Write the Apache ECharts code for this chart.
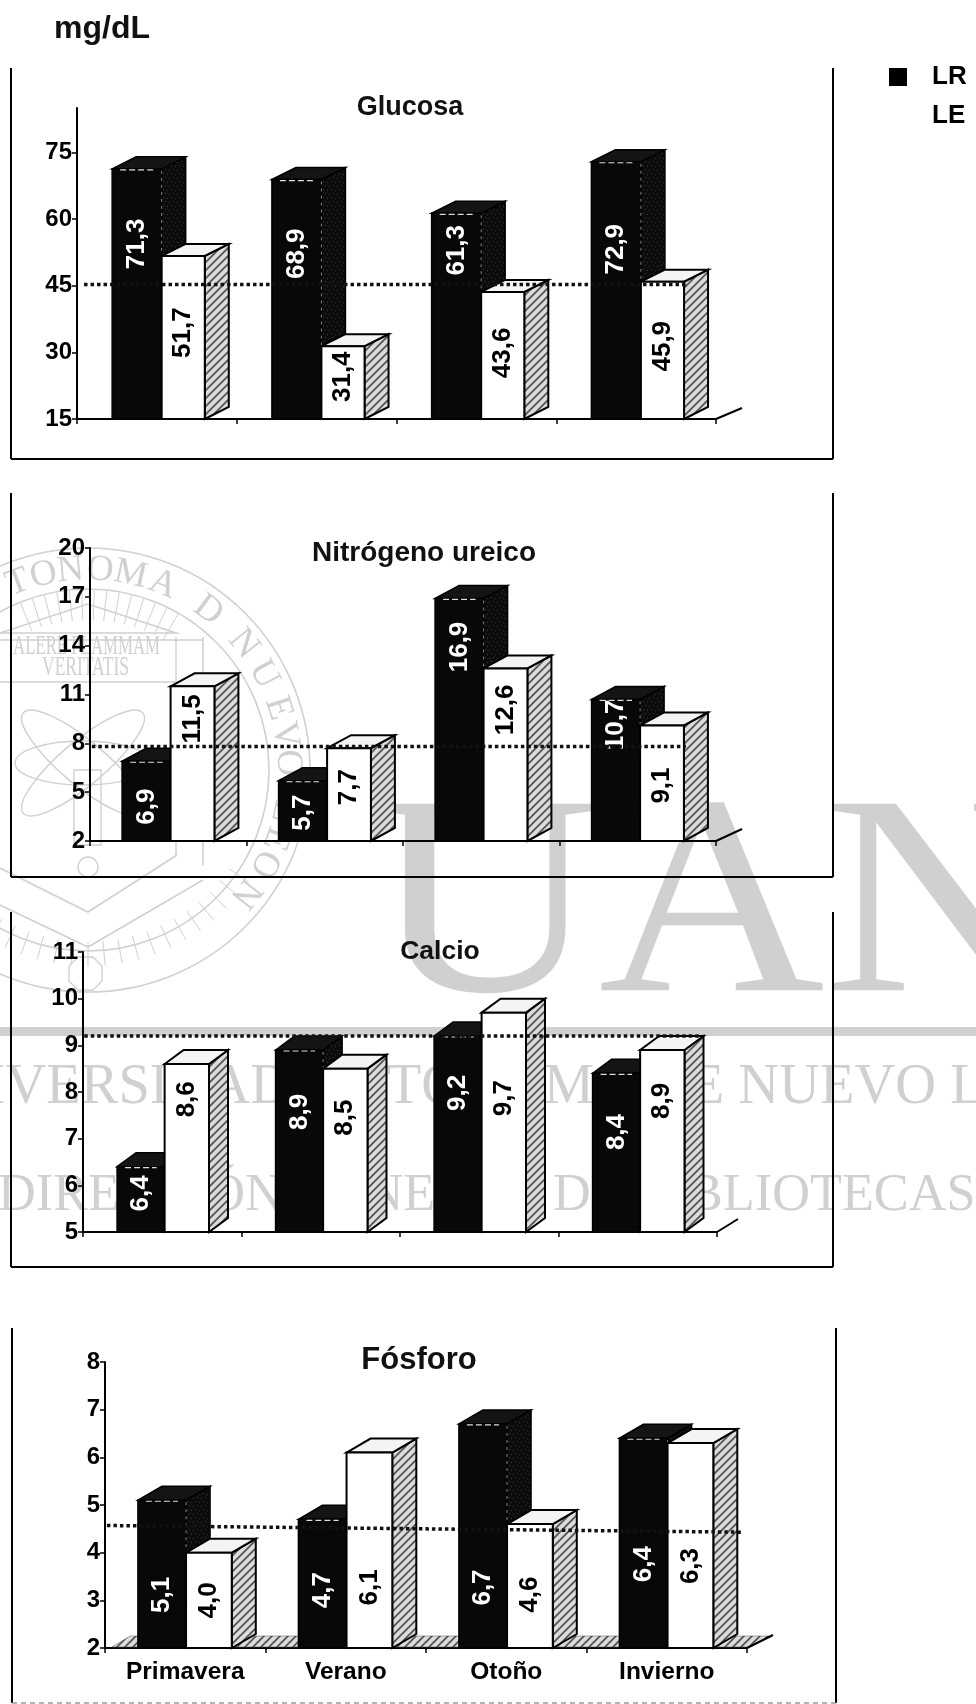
<!DOCTYPE html>
<html><head><meta charset="utf-8">
<script src="https://cdn.jsdelivr.net/npm/echarts@6/dist/echarts.min.js"></script>
<style>html,body{margin:0;padding:0;background:#fff}#c{width:976px;height:1704px}</style>
</head><body><div id="c"></div>
<script>
const categories = ['Primavera','Verano','Otoño','Invierno'];
const glucosaLR = [71.3,68.9,61.3,72.9];
const glucosaLE = [51.7,31.4,43.6,45.9];
const glucosaRef = [45.3,45.3];
const nitrogenoLR = [6.9,5.7,16.9,10.7];
const nitrogenoLE = [11.5,7.7,12.6,9.1];
const nitrogenoRef = [7.8,7.8];
const calcioLR = [6.4,8.9,9.2,8.4];
const calcioLE = [8.6,8.5,9.7,8.9];
const calcioRef = [9.2,9.2];
const fosforoLR = [5.1,4.7,6.7,6.4];
const fosforoLE = [4.0,6.1,4.6,6.3];
const fosforoRef = [4.57,4.43];

const FONT='"Liberation Sans",Arial,sans-serif';
function hatch(bg,fg,speck){
  const c=document.createElement('canvas');c.width=8;c.height=8;const g=c.getContext('2d');
  g.fillStyle=bg;g.fillRect(0,0,8,8);g.strokeStyle=fg;g.lineWidth=speck?1:1.8;
  if(speck){g.fillStyle=fg;[[1,2],[5,1],[3,5],[7,6]].forEach(p=>g.fillRect(p[0],p[1],1,1));}
  else{g.beginPath();g.moveTo(-1,5);g.lineTo(5,-1);g.moveTo(3,9);g.lineTo(9,3);g.stroke();}
  return {image:c,repeat:'repeat'};
}
const hatchLight=hatch('#dcdcdc','#555555',false);
const hatchDark=hatch('#0c0c0c','#3c3c3c',true);

const charts=[
 {lr:glucosaLR,le:glucosaLE,ref:glucosaRef,min:15,max:85,step:15,left:77,width:639,top:108,height:311,start:.22,w1:.31,w2:.27,dx:24,dy:12,
  refFrac:[.011,.956],lrPos:[.70,.69,.82,.66],lePos:[.53,.58,.52,.53],title:'Glucosa',tx:410,ty:94,ts:27,ticks:false},
 {lr:nitrogenoLR,le:nitrogenoLE,ref:nitrogenoRef,min:2,max:20,step:3,left:90,width:626,top:548,height:293,start:.205,w1:.31,w2:.28,dx:24,dy:13,
  refFrac:[.003,.952],lrPos:[.43,.47,.80,.82],lePos:[.79,.58,.76,.48],title:'Nitrógeno ureico',tx:424,ty:539,ts:28,ticks:false},
 {lr:calcioLR,le:calcioLE,ref:calcioRef,min:5,max:11,step:1,left:83,width:634,top:952,height:280,start:.215,w1:.30,w2:.28,dx:19,dy:14,
  refFrac:[.002,.973],lrPos:[.59,.66,.71,.63],lePos:[.79,.70,.61,.72],title:'Calcio',tx:440,ty:938,ts:26.5,ticks:false},
 {lr:fosforoLR,le:fosforoLE,ref:fosforoRef,min:2,max:8,step:1,left:105,width:642,top:1362,height:286,start:.205,w1:.30,w2:.285,dx:24,dy:14,
  refFrac:[.003,.991],lrPos:[.36,.45,.27,.40],lePos:[.50,.31,.43,.40],title:'Fósforo',tx:419,ty:1345,ts:31,ticks:true,floor:true}
];

function barRenderer(ch,second){
  const pos=second?ch.lePos:ch.lrPos;
  return function(params,api){
    const cat=api.value(0),v=api.value(1);
    const t=api.coord([cat,v]),b=api.coord([cat,ch.min]);
    const band=api.size([1,0])[0];
    const l=t[0]-band/2;
    const x0=l+band*(ch.start+(second?ch.w1:0));
    const x1=x0+band*(second?ch.w2:ch.w1);
    const y=t[1],by=b[1],dx=ch.dx,dy=ch.dy;
    const stroke={stroke:'#000',lineWidth:second?2:1.5};
    const fFront=second?'#fff':'#080808';
    const fTop=second?'#f4f4f4':'#141414';
    const fSide=second?hatchLight:hatchDark;
    const kids=[
      {type:'polygon',shape:{points:[[x1,by],[x1+dx,by-dy],[x1+dx,y-dy],[x1,y]]},style:Object.assign({fill:fSide},stroke)},
      {type:'polygon',shape:{points:[[x0,y],[x0+dx,y-dy],[x1+dx,y-dy],[x1,y]]},style:Object.assign({fill:fTop},stroke)},
      {type:'rect',shape:{x:x0,y:y,width:x1-x0,height:by-y},style:Object.assign({fill:fFront},stroke)}
    ];
    if(!second){
      kids.push({type:'line',shape:{x1:x0+8,y1:y+1,x2:x1-8,y2:y+1},style:{stroke:'#ddd',lineWidth:1.2,lineDash:[6,3]}});
      kids.push({type:'line',shape:{x1:x1,y1:y+2,x2:x1,y2:by},style:{stroke:'#888',lineWidth:1,lineDash:[3,4]}});
    }
    kids.push({type:'text',x:(x0+x1)/2,y:by-(by-y)*pos[params.dataIndex],rotation:Math.PI/2,
      style:{text:v.toFixed(1).replace('.',','),fill:second?'#000':'#fff',font:'bold 26px '+FONT,align:'center',verticalAlign:'middle'}});
    return {type:'group',children:kids};
  };
}

const grid=[],xAxis=[],yAxis=[],series=[],title=[];
charts.forEach((ch,i)=>{
  grid.push({left:ch.left,width:ch.width,top:ch.top,height:ch.height,containLabel:false});
  xAxis.push({type:'category',gridIndex:i,data:categories,boundaryGap:true,
    axisLine:{show:true,onZero:false,lineStyle:{color:'#000',width:2}},
    axisTick:{show:true,length:5,alignWithLabel:false,lineStyle:{color:'#000',width:1.5}},
    axisLabel:{show:ch.ticks,color:'#000',fontFamily:FONT,fontWeight:'bold',fontSize:24.5,margin:12}});
  yAxis.push({type:'value',gridIndex:i,min:ch.min,max:ch.max,interval:ch.step,splitLine:{show:false},
    axisLine:{show:true,onZero:false,lineStyle:{color:'#000',width:2}},
    axisTick:{show:true,length:5,lineStyle:{color:'#000',width:1.5}},
    axisLabel:{show:true,color:'#000',fontFamily:FONT,fontWeight:'bold',fontSize:24,margin:5,showMaxLabel:ch.max!==85}});
  title.push({text:ch.title,left:ch.tx,top:ch.ty,padding:0,textAlign:'center',textStyle:{fontFamily:FONT,fontWeight:'bold',fontSize:ch.ts,color:'#111'}});
  series.push({type:'custom',xAxisIndex:i,yAxisIndex:i,silent:true,z:2,clip:false,data:[[0,ch.min]],
    renderItem:function(p,api){
      const cs=p.coordSys,by=cs.y+cs.height,rx=cs.x+cs.width;
      const kids=[{type:'line',shape:{x1:rx,y1:by,x2:rx+ch.dx+2,y2:by-ch.dy+1},style:{stroke:'#000',lineWidth:2}}];
      if(ch.floor)kids.unshift({type:'polygon',shape:{points:[[cs.x+7,by-1],[cs.x+25,by-12],[rx+25,by-12],[rx+3,by-1]]},style:{fill:hatchLight,stroke:'#555',lineWidth:.5}});
      return {type:'group',children:kids};
    }});
  series.push({name:'LR',type:'custom',xAxisIndex:i,yAxisIndex:i,z:3,clip:false,itemStyle:{color:'#000'},
    data:ch.lr.map((v,k)=>[k,v]),encode:{x:0,y:1},renderItem:barRenderer(ch,false)});
  series.push({name:'LE',type:'custom',xAxisIndex:i,yAxisIndex:i,z:4,clip:false,itemStyle:{color:'#fff'},
    data:ch.le.map((v,k)=>[k,v]),encode:{x:0,y:1},renderItem:barRenderer(ch,true)});
  series.push({type:'custom',xAxisIndex:i,yAxisIndex:i,silent:true,z:5,clip:false,data:[[0,ch.ref[0],ch.ref[1]]],
    renderItem:function(p,api){
      const cs=p.coordSys;
      return {type:'line',shape:{x1:cs.x+cs.width*ch.refFrac[0],y1:api.coord([0,api.value(1)])[1],x2:cs.x+cs.width*ch.refFrac[1],y2:api.coord([0,api.value(2)])[1]},
        style:{stroke:'#111',lineWidth:3.5,lineDash:[3.5,3]}};
    }});
});

// ----- watermark + frames -----
const WM='#d0d0d0',SERIF='"Liberation Serif",serif';
const CX=88,CY=770;
const g=[];
function frame(x0,x1,top,bottom,faint){
  g.push({type:'line',z:1,shape:{x1:x0,y1:top,x2:x0,y2:bottom},style:{stroke:'#000',lineWidth:2}});
  g.push({type:'line',z:1,shape:{x1:x1,y1:top,x2:x1,y2:bottom},style:{stroke:'#000',lineWidth:2}});
  g.push({type:'line',z:1,shape:{x1:x0,y1:bottom,x2:x1,y2:bottom},style:faint?{stroke:'#999',lineWidth:1.5,lineDash:[5,4]}:{stroke:'#000',lineWidth:2}});
}
function wmLine(x1,y1,x2,y2,w){g.push({type:'line',z:0,shape:{x1,y1,x2,y2},style:{stroke:WM,lineWidth:w||1.4}});}
[222,181].forEach(r=>g.push({type:'circle',z:0,shape:{cx:CX,cy:CY,r},style:{fill:'none',stroke:WM,lineWidth:1.6}}));
[['T',-20.5],['O',-12.8],['N',-5],['O',3.5],['M',12.3],['A',22],['D',37],['N',51],['U',61.5],['E',72],['V',80],['O',88],['L',102],['E',110],['O',118],['N',128]].forEach(p=>{
  const a=p[1]*Math.PI/180;
  g.push({type:'text',z:0,x:CX+200*Math.sin(a),y:CY-200*Math.cos(a),rotation:-a,
    style:{text:p[0],font:'37px '+SERIF,fill:WM,align:'center',verticalAlign:'middle'}});
});
for(let a=125;a<=235;a+=5){const r=a*Math.PI/180;wmLine(CX+172*Math.sin(r),CY-172*Math.cos(r),CX+196*Math.sin(r),CY-196*Math.cos(r),1);}
for(let a=-22;a<=30;a+=4){const r=a*Math.PI/180;wmLine(CX+150*Math.sin(r),CY-150*Math.cos(r),CX+180*Math.sin(r),CY-180*Math.cos(r),1);}
g.push({type:'polygon',z:0,shape:{points:[[0,633],[88,604],[176,633]]},style:{fill:'none',stroke:WM,lineWidth:1.6}});
wmLine(0,640,203,640,1.6);wmLine(203,637,203,865,1.6);wmLine(176,637,176,855,1.4);wmLine(0,682,176,682,1.4);
g.push({type:'text',z:0,x:13,y:647,scaleX:.6,style:{text:'ALERE FLAMMAM',font:'28px '+SERIF,fill:WM,verticalAlign:'middle'}});
g.push({type:'text',z:0,x:42,y:668,scaleX:.625,style:{text:'VERITATIS',font:'28px '+SERIF,fill:WM,verticalAlign:'middle'}});
g.push({type:'polyline',z:0,shape:{points:[[0,868],[88,912],[177,855]]},style:{fill:'none',stroke:WM,lineWidth:1.6}});
g.push({type:'polyline',z:0,shape:{points:[[0,905],[88,947],[203,880]]},style:{fill:'none',stroke:WM,lineWidth:1.6}});
[-40,40,0].forEach(r=>g.push({type:'ellipse',z:0,x:83,y:763,rotation:r*Math.PI/180,shape:{cx:0,cy:0,rx:r?78:68,ry:22},style:{fill:'none',stroke:WM,lineWidth:1.4}}));
g.push({type:'rect',z:0,shape:{x:74,y:770,width:27,height:75},style:{fill:'none',stroke:WM,lineWidth:1.4}});
g.push({type:'circle',z:0,shape:{cx:88,cy:867,r:10},style:{fill:'none',stroke:WM,lineWidth:1.4}});
g.push({type:'polygon',z:0,shape:{points:[[78,957],[93,957],[102,966],[102,981],[93,990],[78,990],[69,981],[69,966]]},style:{fill:'none',stroke:WM,lineWidth:1.4}});
g.push({type:'text',z:0,x:372,y:773,scaleX:1.10,style:{text:'UANL',font:'285px '+SERIF,fill:WM}});
g.push({type:'rect',z:0,shape:{x:0,y:1027,width:976,height:9},style:{fill:WM}});
g.push({type:'text',z:0,x:-95,y:1060,style:{text:'UNIVERSIDAD AUTÓNOMA DE NUEVO LEÓN',font:'56.5px '+SERIF,fill:WM}});
g.push({type:'text',z:0,x:-2,y:1170,style:{text:'DIRECCIÓN GENERAL DE BIBLIOTECAS',font:'52.3px '+SERIF,fill:WM}});
frame(11,833,68,459);
frame(11,833,493,877);
frame(11,833,912,1267);
frame(12,836,1328,1703,true);
g.push({type:'text',z:6,x:54,y:13,style:{text:'mg/dL',font:'bold 32px '+FONT,fill:'#111'}});

const chart=echarts.init(document.getElementById('c'),null,{renderer:'canvas'});
chart.setOption({
  animation:false,backgroundColor:'#fff',title,grid,xAxis,yAxis,series,graphic:g,
  legend:{orient:'vertical',left:884,top:59,icon:'rect',itemWidth:18,itemHeight:18,itemGap:13,data:['LR','LE'],selectedMode:false,
    textStyle:{fontFamily:FONT,fontWeight:'bold',fontSize:26,color:'#000',padding:[0,0,0,20]}}
});
</script></body></html>
